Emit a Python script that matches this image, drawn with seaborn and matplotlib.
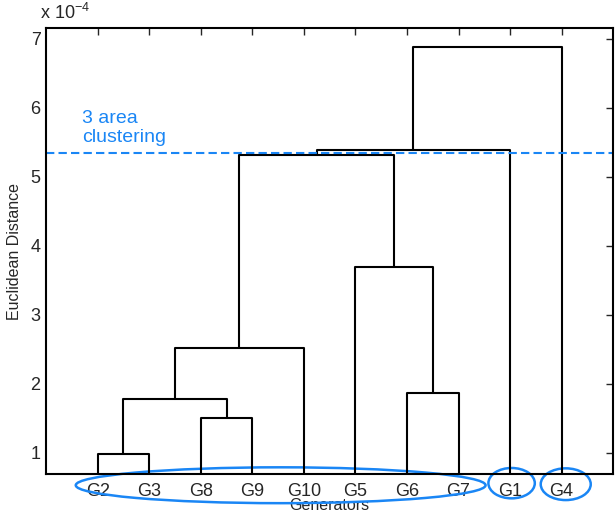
import matplotlib
matplotlib.use("Agg")
import matplotlib.pyplot as plt
from matplotlib.patches import Ellipse
import seaborn as sns

# leaves in dendrogram order
leaves = ['G2', 'G3', 'G8', 'G9', 'G10', 'G5', 'G6', 'G7', 'G1', 'G4']
# merges: (left node, right node, height in 1e-4 units); new nodes are named N0, N1, ...
merge_left = ['G2', 'G8', 'G6', 'N0', 'N3', 'G5', 'N4', 'N6', 'N7']
merge_right = ['G3', 'G9', 'G7', 'N1', 'G10', 'N2', 'N5', 'G1', 'G4']
merge_height = [0.98, 1.50, 1.87, 1.78, 2.52, 3.70, 5.32, 5.39, 6.88]
cut_height = 5.35

sns.set_style("white")
plt.rcParams['font.family'] = ['Liberation Sans', 'DejaVu Sans']
plt.rcParams['mathtext.fontset'] = 'custom'
plt.rcParams['mathtext.rm'] = 'Liberation Sans'
blue = '#1a86f5'

fig = plt.figure(figsize=(6.15, 5.16), dpi=100)
ax = fig.add_axes([0.075, 0.081, 0.922, 0.865])

# node coordinates
pos = {name: (i + 1, 0.0) for i, name in enumerate(leaves)}
for k, (a, b, h) in enumerate(zip(merge_left, merge_right, merge_height)):
    xa, ya = pos[a]
    xb, yb = pos[b]
    ax.plot([xa, xa, xb, xb], [ya, h, h, yb], color='black', lw=1.5)
    pos['N%d' % k] = ((xa + xb) / 2, h)

ax.axhline(cut_height, color=blue, ls='--', lw=1.5, dashes=(4, 2))
ax.text(0.69, 5.45, '3 area\nclustering', color=blue, fontsize=14,
        linespacing=1.15, va='bottom')

ax.set_xlim(0, 11)
ax.set_ylim(0.69, 7.16)
ax.set_xticks(range(1, len(leaves) + 1))
ax.set_xticklabels(leaves)
ax.set_yticks([1, 2, 3, 4, 5, 6, 7])
ax.tick_params(direction='in', length=5, width=1, labelsize=13,
               top=True, right=True, bottom=False, pad=4)
ax.tick_params(axis='x', pad=6)
for s in ax.spines.values():
    s.set_linewidth(1.5)
    s.set_color('black')

ax.set_ylabel('Euclidean Distance', fontsize=11.5, labelpad=6)
ax.set_xlabel('Generators', fontsize=11.5, labelpad=-1)
ax.text(-0.01, 1.012, r'x 10$^{\mathrm{-4}}$', transform=ax.transAxes, fontsize=13,
        ha='left', va='bottom')

# group ellipses
ax.add_patch(Ellipse((4.55, 0.53), 7.95, 0.52, fill=False, ec=blue, lw=1.8, clip_on=False))
ax.add_patch(Ellipse((9.03, 0.56), 0.9, 0.44, fill=False, ec=blue, lw=1.8, clip_on=False))
ax.add_patch(Ellipse((10.08, 0.545), 0.97, 0.46, fill=False, ec=blue, lw=1.8, clip_on=False))

fig.savefig('out.png', dpi=100)
